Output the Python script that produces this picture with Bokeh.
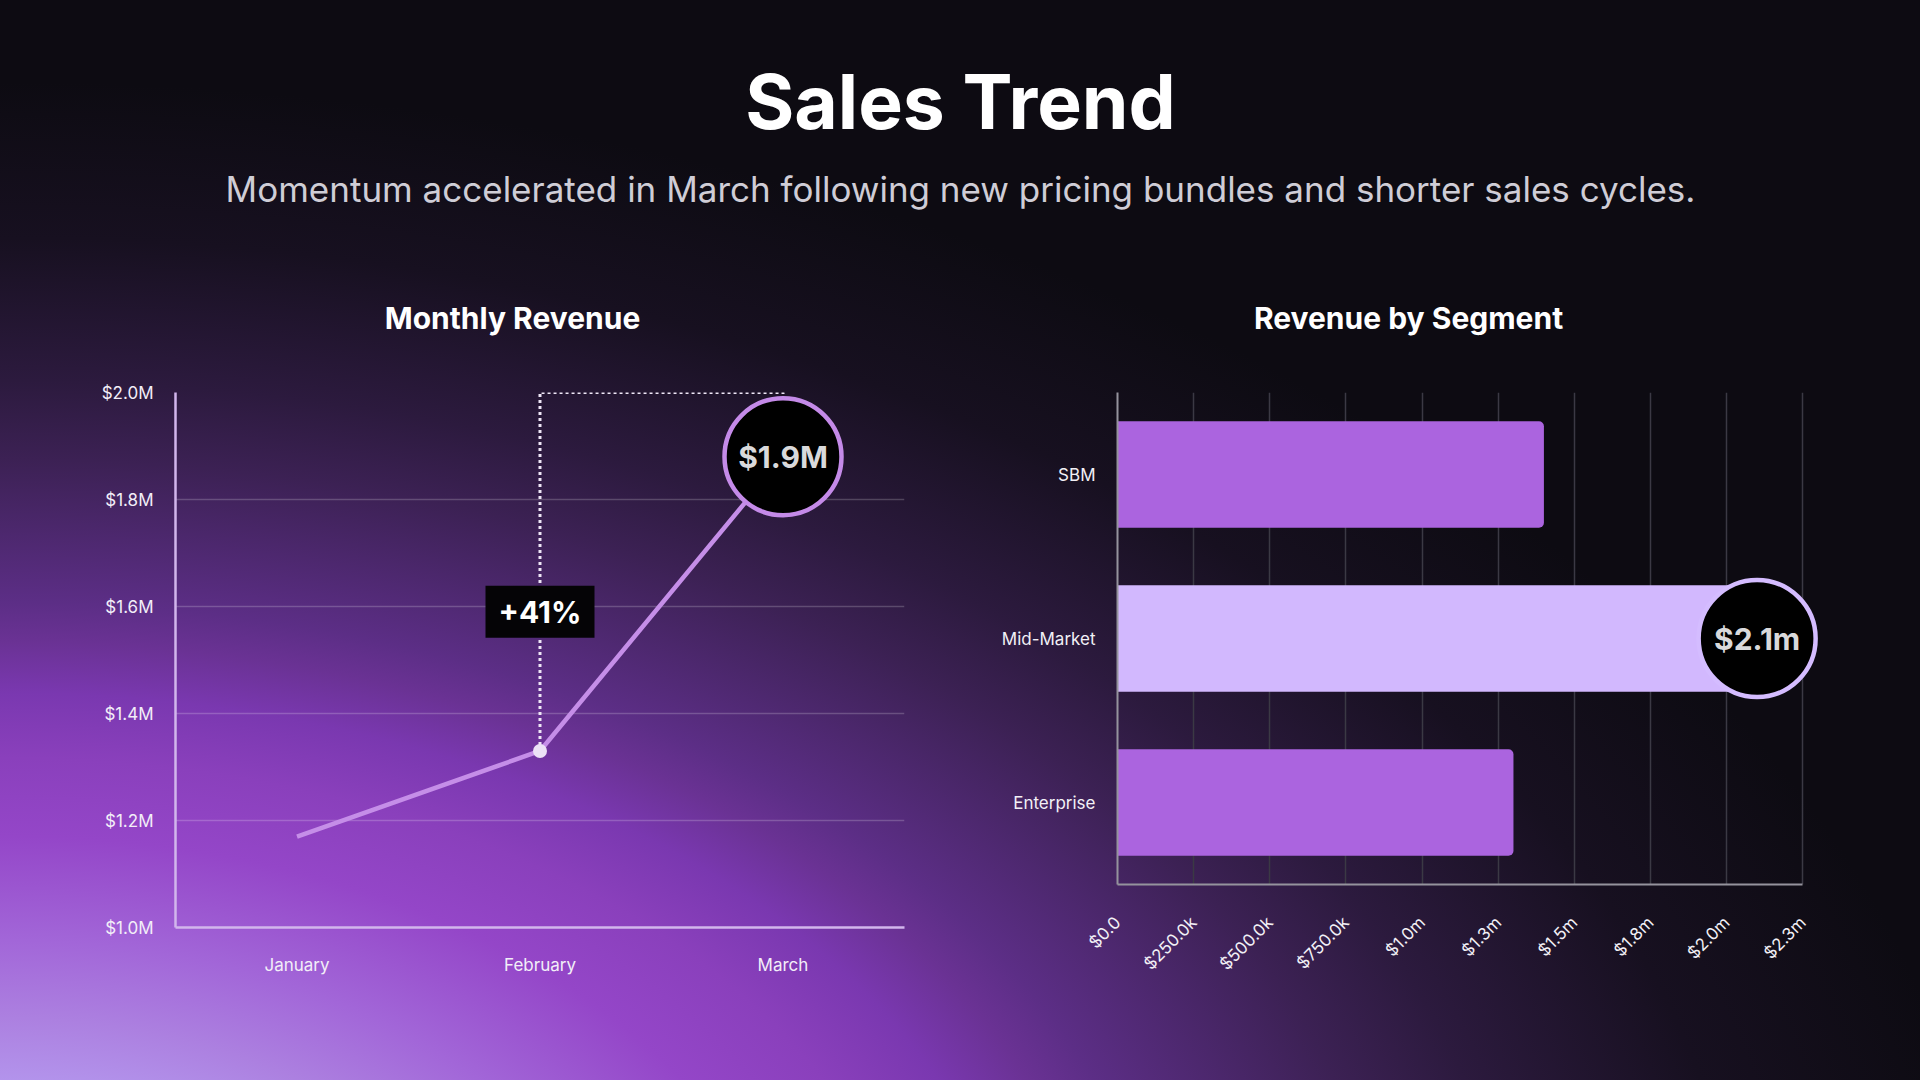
import math
from bokeh.plotting import figure
from bokeh.layouts import column, row
from bokeh.models import Range1d, FactorRange, FixedTicker, NumeralTickFormatter, CustomJSTickFormatter
from bokeh.core.properties import value
from bokeh.embed import file_html
from bokeh.resources import INLINE

# ---------------- data ----------------
TITLE = "Sales Trend"
SUBTITLE = "Momentum accelerated in March following new pricing bundles and shorter sales cycles."
LINE_TITLE = "Monthly Revenue"
BAR_TITLE = "Revenue by Segment"

months = ["January", "February", "March"]
revenue = [1_170_000, 1_330_000, 1_880_000]
revenue_ticks = [1_000_000, 1_200_000, 1_400_000, 1_600_000, 1_800_000, 2_000_000]
growth_label = "+41%"
growth_label_y = 1_590_000
peak_label = "$1.9M"

segments = ["SBM", "Mid-Market", "Enterprise"]
segment_revenue = [1_400_000, 2_100_000, 1_300_000]
segment_ticks = [0, 250_000, 500_000, 750_000, 1_000_000, 1_250_000,
                 1_500_000, 1_750_000, 2_000_000, 2_250_000]
highlight_segment = "Mid-Market"
highlight_label = "$2.1m"

# ---------------- style ----------------
FONT = "Inter"
BG = ("radial-gradient(2080px 1300px at 0px 1330px, #bba0f0 0%, #b394ec 19%, #ac80e0 24%, "
      "#a266d8 30%, #9446c8 38%, #8a40bc 44%, #7a38b0 49%, #6a3294 53%, #5c2e86 56%, "
      "#3c2154 67%, #2c1a3e 73%, #171020 84%, #0d0b12 96%, #0d0b12 100%)")

TEMPLATE = """
{% block preamble %}
<style>
html { height: 100%; background: #0d0b12 """ + BG + """ no-repeat; }
body { background: transparent; }
</style>
{% endblock %}
"""

W = 1904
HDR_H = 342


def transparent(p):
    p.background_fill_alpha = 0
    p.border_fill_alpha = 0
    p.outline_line_color = None


# ---------------- header ----------------
hdr = figure(width=W, height=HDR_H, x_range=Range1d(0, W), y_range=Range1d(HDR_H, 0),
             x_axis_type=None, y_axis_type=None, toolbar_location=None,
             output_backend="svg", min_border=0)
transparent(hdr)
hdr.grid.visible = False
hdr.text(x=[960], y=[101], text=[TITLE], text_font=value(FONT), text_font_size=value("75px"),
         text_font_style="bold", text_color="#ffffff", text_align="center", text_baseline="middle")
hdr.text(x=[960], y=[188], text=[SUBTITLE], text_font=value(FONT), text_font_size=value("35px"),
         text_color="#cfcdd6", text_align="center", text_baseline="middle")
hdr.text(x=[512, 1408], y=[317, 317], text=[LINE_TITLE, BAR_TITLE], text_font=value(FONT),
         text_font_size=value("30px"), text_font_style="bold", text_color="#ffffff",
         text_align="center", text_baseline="middle")

# ---------------- line chart ----------------
lf = figure(x_range=FactorRange(factors=months), y_range=Range1d(revenue_ticks[0], revenue_ticks[-1]),
            frame_width=729, frame_height=535, min_border_left=175, min_border_right=48,
            min_border_top=50, min_border_bottom=137, toolbar_location=None, output_backend="svg")
transparent(lf)
lf.xgrid.visible = False
lf.ygrid.ticker = FixedTicker(ticks=revenue_ticks)
lf.ygrid.grid_line_color = "#ffffff"
lf.ygrid.grid_line_alpha = 0.2
lf.ygrid.grid_line_width = 1.5
lf.yaxis.ticker = FixedTicker(ticks=revenue_ticks)
lf.yaxis.formatter = CustomJSTickFormatter(code="return '$' + (tick/1e6).toFixed(1) + 'M';")
for ax in (lf.xaxis[0], lf.yaxis[0]):
    ax.axis_line_color = "#d2b6ec"
    ax.axis_line_width = 2.5
    ax.major_tick_line_color = None
    ax.minor_tick_line_color = None
    ax.major_label_text_font = FONT
    ax.major_label_text_font_size = "17px"
    ax.major_label_text_color = "#f2eef8"
lf.yaxis.major_label_standoff = 16
lf.xaxis.major_label_standoff = 21

# dotted growth bracket
lf.line(x=[months[1], months[1], months[2], months[2]],
        y=[revenue[1], revenue_ticks[-1], revenue_ticks[-1], revenue[2]],
        line_color="#eee6f6", line_width=3, line_dash="3 3")
lf.line(x=months, y=revenue, line_color="#c58ee8", line_width=4.5)
lf.scatter(x=[months[1]], y=[revenue[1]], size=14, fill_color="#ece2f6", line_color=None)
lf.rect(x=[months[1]], y=[growth_label_y], width=109, height=52, width_units="screen",
        height_units="screen", fill_color="#050406", line_color=None)
lf.text(x=[months[1]], y=[growth_label_y], text=[growth_label], text_font=value(FONT),
        text_font_size=value("30px"), text_font_style="bold", text_color="#ffffff",
        text_align="center", text_baseline="middle")
lf.scatter(x=[months[2]], y=[revenue[2]], size=117, fill_color="#000000",
           line_color="#c48ae8", line_width=4.5)
lf.text(x=[months[2]], y=[revenue[2]], text=[peak_label], text_font=value(FONT),
        text_font_size=value("30px"), text_font_style="bold", text_color="#d9d9db",
        text_align="center", text_baseline="middle")

# ---------------- bar chart ----------------
rf = figure(y_range=FactorRange(factors=segments[::-1]), x_range=Range1d(0, 2_400_000),
            frame_width=731, frame_height=492, min_border_left=165, min_border_right=56,
            min_border_top=50, min_border_bottom=180, toolbar_location=None, output_backend="svg")
transparent(rf)
rf.ygrid.visible = False
rf.xgrid.ticker = FixedTicker(ticks=segment_ticks)
rf.xgrid.grid_line_color = "#3b3944"
rf.xgrid.grid_line_width = 1.5
rf.xaxis.ticker = FixedTicker(ticks=segment_ticks)
rf.xaxis.formatter = NumeralTickFormatter(format="$0.0a")
rf.xaxis.bounds = (segment_ticks[0], segment_ticks[-1])
rf.xaxis.major_label_orientation = math.pi / 4
for ax in (rf.xaxis[0], rf.yaxis[0]):
    ax.axis_line_color = "#95939d"
    ax.axis_line_width = 2
    ax.major_tick_line_color = None
    ax.minor_tick_line_color = None
    ax.major_label_text_font = FONT
    ax.major_label_text_font_size = "17px"
    ax.major_label_text_color = "#f2f0f6"
rf.yaxis.major_label_standoff = 16
rf.xaxis.major_label_standoff = 29

bar_colors = ["#d2b8fe" if s == highlight_segment else "#ab64df" for s in segments]
rf.hbar(y=segments, right=segment_revenue, left=0, height=0.65, fill_color=bar_colors,
        line_color=None, border_radius=(0, 5, 5, 0))
hi = segments.index(highlight_segment)
rf.scatter(x=[segment_revenue[hi]], y=[highlight_segment], size=117, fill_color="#000000",
           line_color="#d4bcff", line_width=4.5)
rf.text(x=[segment_revenue[hi]], y=[highlight_segment], text=[highlight_label], text_font=value(FONT),
        text_font_size=value("30px"), text_font_style="bold", text_color="#d9d9db",
        text_align="center", text_baseline="middle")

root = column(hdr, row(lf, rf))
open("out.html", "w").write(file_html(root, INLINE, title="Sales Trend", template=TEMPLATE))
